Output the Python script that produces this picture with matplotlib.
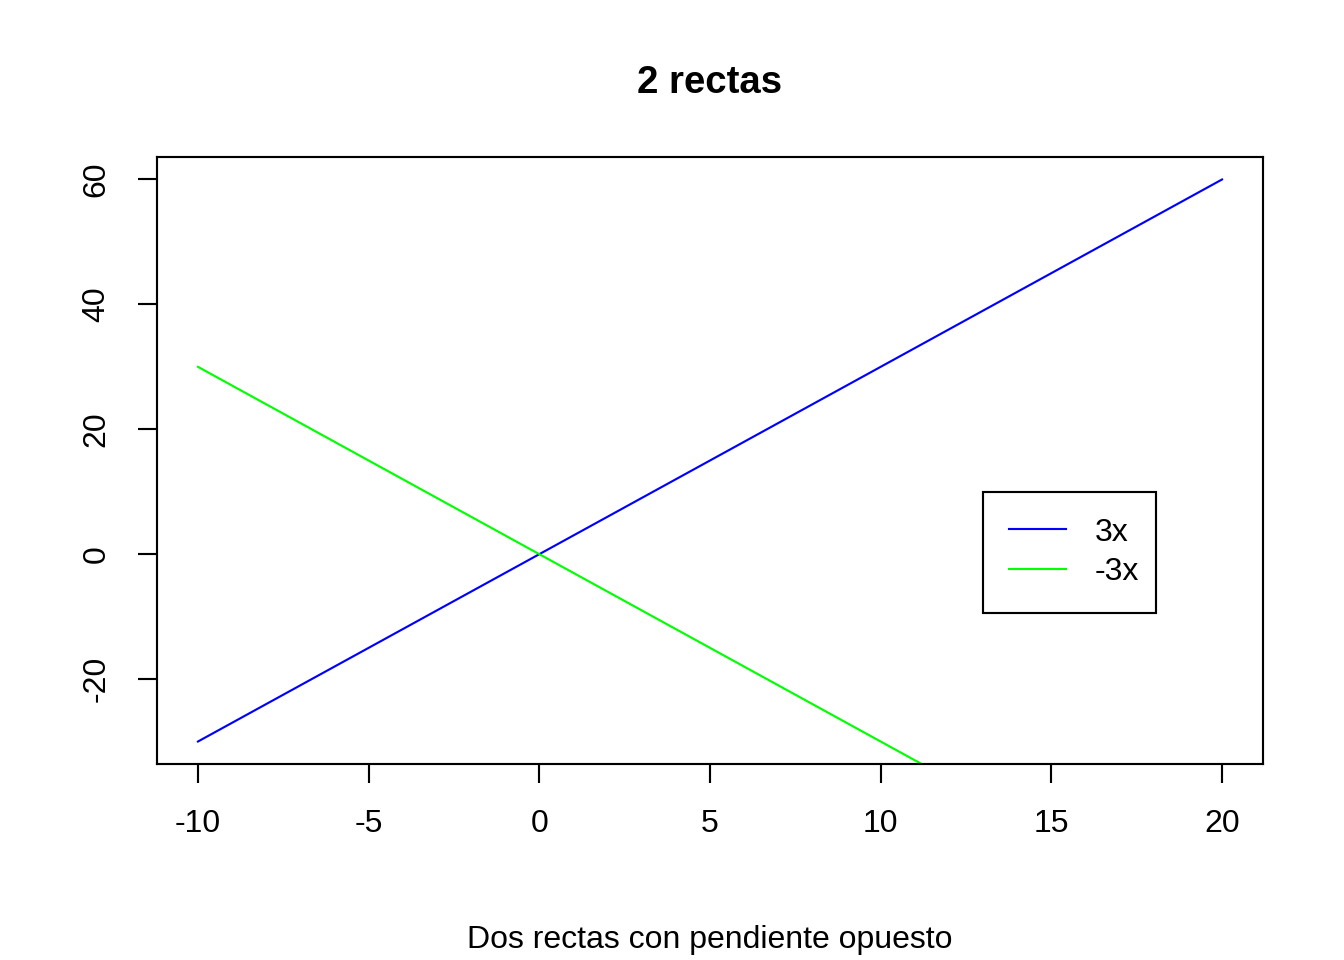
import matplotlib
matplotlib.use("Agg")
from matplotlib import pyplot as plt

# data
x = [-10, 20]
y_pos = [-30, 60]     # 3x
y_neg = [30, -60]     # -3x
labels = ["3x", "-3x"]
xticks = [-10, -5, 0, 5, 10, 15, 20]
yticks = [-20, 0, 20, 40, 60]

plt.rcParams['font.family'] = ['Liberation Sans', 'DejaVu Sans']
plt.rcParams['axes.unicode_minus'] = False

fig = plt.figure(figsize=(7, 5), dpi=192)
ax = fig.add_axes([157/1344, 1 - 764/960, (1263-157)/1344, (764-157)/960])

ax.plot(x, y_pos, color="blue", lw=0.8, label=labels[0])
ax.plot(x, y_neg, color="#00ff00", lw=0.8, label=labels[1])

ax.set_xlim(-11.2, 21.2)
ax.set_ylim(-33.6, 63.6)

ax.set_xticks(xticks)
ax.set_yticks(yticks)
ax.tick_params(axis="both", direction="out", length=7, width=0.8, labelsize=12, pad=10)
ax.tick_params(axis="y", labelrotation=90)
for lab in ax.get_yticklabels():
    lab.set_va("center")

for s in ax.spines.values():
    s.set_linewidth(0.8)

ax.set_title("2 rectas", fontsize=14.4, fontweight="bold", pad=24)
ax.set_xlabel("Dos rectas con pendiente opuesto", fontsize=12, labelpad=32)

#legend box placed where R put it
leg = ax.legend(loc="upper left",
                bbox_to_anchor=(983/1344, 1 - 606/960, 173/1344, 114/960),
                bbox_transform=fig.transFigure, mode="expand", fontsize=12,
                fancybox=False, edgecolor="black", framealpha=1, borderaxespad=0,
                handlelength=1.8, handletextpad=0.9, labelspacing=0.3,
                borderpad=0.8)
leg.get_frame().set_linewidth(0.8)

fig.savefig("out.png", dpi=192)
